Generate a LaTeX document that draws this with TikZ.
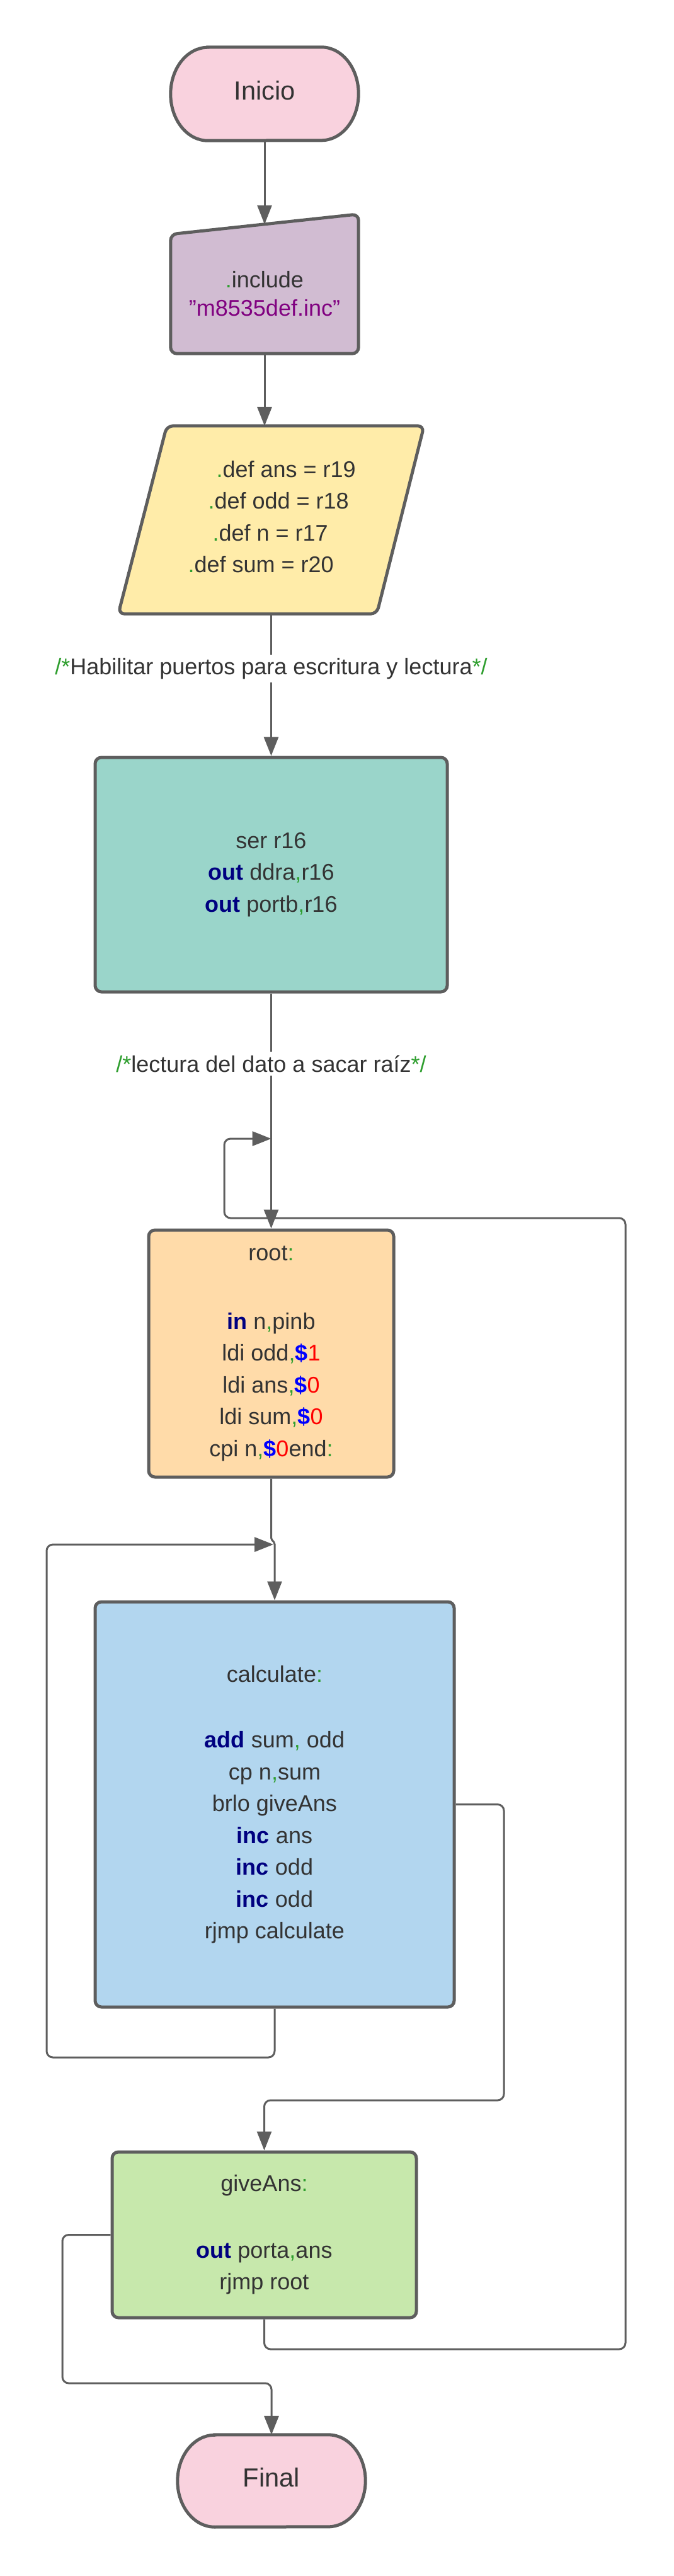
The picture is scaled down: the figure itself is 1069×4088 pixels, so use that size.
\documentclass[tikz,border=0pt]{standalone}
\usepackage{fontspec}
\setmainfont{Liberation Sans}
\usetikzlibrary{arrows.meta}
\usetikzlibrary{calc}
\usetikzlibrary{backgrounds}

\definecolor{edge}{HTML}{5E5E5E}
\definecolor{ink}{HTML}{333333}
\definecolor{pinkfill}{HTML}{F9D2DE}
\definecolor{lilac}{HTML}{D1BCD2}
\definecolor{sand}{HTML}{FFECA9}
\definecolor{mint}{HTML}{9AD5CA}
\definecolor{peach}{HTML}{FFDBA9}
\definecolor{sky}{HTML}{B2D6EF}
\definecolor{leaf}{HTML}{C7E8AC}
\definecolor{kwnavy}{HTML}{000080}
\definecolor{dolblue}{HTML}{0000FF}
\definecolor{numred}{HTML}{FF0000}
\definecolor{punct}{HTML}{2E9E2E}
\definecolor{strpurple}{HTML}{800080}

\newcommand{\kw}[1]{\textbf{\textcolor{kwnavy}{#1}}}
\newcommand{\gp}[1]{\textcolor{punct}{#1}}
\newcommand{\dol}{\textbf{\textcolor{dolblue}{\$}}}
\newcommand{\nr}[1]{\textcolor{numred}{#1}}

\tikzset{
  code/.style={text=ink, font=\fontsize{36}{50.5}\selectfont, align=center},
  big/.style={text=ink, font=\fontsize{41.6}{50}\selectfont, text depth=12pt},
  box/.style={code, draw=edge, line width=5pt, rounded corners=10pt},
  shp/.style={draw=edge, line width=5pt},
  con/.style={draw=edge, line width=3pt, rounded corners=10pt},
  arr/.style={con, -{Triangle[length=30pt, width=23pt]}},
  note/.style={code, fill=white, inner xsep=0pt, inner ysep=5pt},
}

\begin{document}
\begin{tikzpicture}[x=1pt, y=-1pt]
    \useasboundingbox (0,0) rectangle (1069,4088);

    \node[big, minimum width=298pt, minimum height=148pt] (ini) at (420,149) {Inicio};
    \node[code, minimum width=298pt, minimum height=189pt] (inc) at (420,466.5) {\gp{.}include\\[-5.5pt]\textcolor{strpurple}{"m8535def.inc"}};
    \node[minimum width=485pt, minimum height=298pt] (defs) at (430.5,825) {};
    \node[code, anchor=base west] (dans) at (340,757) {\gp{.}def ans = r19};
    \node[code, anchor=base west] (dodd) at (327,807) {\gp{.}def odd = r18};
    \node[code, anchor=base west] (dn) at (334,858) {\gp{.}def n = r17};
    \node[code, anchor=base west] (dsum) at (295,908) {\gp{.}def sum = r20};
    \node[note] (c1) at (430.5,1061) {\gp{/*}Habilitar puertos para escritura y lectura\gp{*/}};
    \node[box, fill=mint, minimum width=559pt, minimum height=372pt] (ser) at (430.5,1388) {ser r16\\\kw{out} ddra\gp{,}r16\\\kw{out} portb\gp{,}r16};
    \node[note] (c2) at (430.5,1688) {\gp{/*}lectura del dato a sacar raíz\gp{*/}};
    \node[box, fill=peach, minimum width=389pt, minimum height=392pt] (root) at (430.5,2148) {root\gp{:}\\[58pt]\kw{in} n\gp{,}pinb\\ldi odd\gp{,}\dol\nr{1}\\ldi ans\gp{,}\dol\nr{0}\\ldi sum\gp{,}\dol\nr{0}\\cpi n\gp{,}\dol\nr{0}end\gp{:}};
    \node[box, fill=sky, minimum width=570pt, minimum height=643pt] (calc) at (436,2863.5) {calculate\gp{:}\\[54pt]\kw{add} sum\gp{,} odd\\cp n\gp{,}sum\\brlo giveAns\\\kw{inc} ans\\\kw{inc} odd\\\kw{inc} odd\\rjmp calculate};
    \node[box, fill=leaf, minimum width=483pt, minimum height=263pt] (give) at (419.5,3546.5) {giveAns\gp{:}\\[55pt]\kw{out} porta\gp{,}ans\\rjmp root};
    \node[big, minimum width=298pt, minimum height=146pt] (fin) at (431,3937) {Final};

    \coordinate (jn) at (434,2451);
    \coordinate (lw) at (74,3265);
    \coordinate (rb) at (800,3333);
    \coordinate (lb) at (99,3782);
    \coordinate (rr) at (993,3728);
    \coordinate (lp) at (356,1933);
    \coordinate (jr) at (430.5,1807);

    \begin{scope}[on background layer]
      \draw[shp, fill=pinkfill] ($(ini.north west)+(59,0)$) -- ($(ini.north east)+(-59,0)$) arc[start angle=-90, end angle=90, x radius=59, y radius=74] -- ($(ini.south west)+(59,0)$) arc[start angle=90, end angle=270, x radius=59, y radius=74] -- cycle;
      \draw[shp, fill=lilac, rounded corners=10pt] (inc.south west) -- (inc.north west) -- ($(inc.north east)+(0,-32)$) -- (inc.south east) -- cycle;
      \draw[shp, fill=sand, rounded corners=10pt] ($(defs.north west)+(77,0)$) -- (defs.north east) -- ($(defs.south east)+(-75,0)$) -- (defs.south west) -- cycle;
      \draw[shp, fill=pinkfill] ($(fin.north west)+(59,0)$) -- ($(fin.north east)+(-59,0)$) arc[start angle=-90, end angle=90, x radius=59, y radius=73] -- ($(fin.south west)+(59,0)$) arc[start angle=90, end angle=270, x radius=59, y radius=73] -- cycle;
    \end{scope}

    \draw[arr] (ini.south) -- ($(inc.north)+(0,-16)$);
    \draw[arr] (inc.south) -- (inc.south |- defs.north);
    \draw[con] (defs.south) -- (c1);
    \draw[arr] (c1) -- (ser.north);
    \draw[con] (ser.south) -- (c2);
    \draw[arr] (c2) -- (root.north);
    \draw[arr, rounded corners=2pt] (root.south) -- ++(0,96) -- ++(5.5,6) -- (calc.north);
    \draw[arr] (calc.south) |- (lw) |- (jn);
    \draw[arr] (calc.east) -| (rb) -| (give.north);
    \draw[arr] (give.west) -| (lb) -| (fin.north);
    \draw[arr] (give.south) |- (rr) |- (lp) |- (jr);
\end{tikzpicture}
\end{document}
